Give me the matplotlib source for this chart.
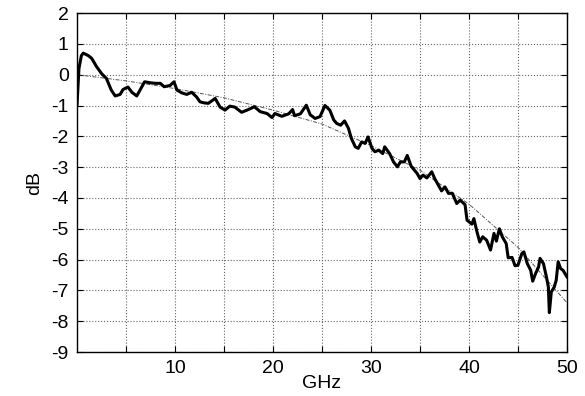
import matplotlib
matplotlib.use("Agg")
import matplotlib.pyplot as plt

plt.rcParams['font.family'] = ['Liberation Sans', 'DejaVu Sans']

# measured response (GHz, dB)
freq_ghz = [0.0, 0.2, 0.45, 0.64, 1.15, 1.5, 2.0, 2.5, 3.0, 3.5, 3.9, 4.4, 4.7, 5.2, 5.6,
            6.1, 6.4, 6.9, 7.45, 7.96, 8.5, 8.9, 9.5, 9.9, 10.2, 10.7, 11.2, 11.7, 12.2,
            12.55, 12.9, 13.4, 14.1, 14.6, 15.1, 15.6, 16.1, 16.8, 17.5, 18.1, 18.7, 19.4,
            19.9, 20.2, 20.9, 21.6, 22.0, 22.2, 22.8, 23.4, 23.8, 24.3, 24.8, 25.3, 25.8,
            26.2, 26.5, 26.9, 27.3, 27.7, 28.0, 28.4, 28.7, 29.05, 29.4, 29.7, 30.1, 30.4,
            30.8, 31.2, 31.4, 31.9, 32.3, 32.7, 33.0, 33.4, 33.7, 34.1, 34.7, 35.0, 35.3,
            35.7, 36.2, 36.5, 36.9, 37.2, 37.55, 37.9, 38.3, 38.75, 39.1, 39.6, 39.8, 40.3,
            40.5, 40.8, 41.1, 41.4, 41.8, 42.2, 42.55, 42.8, 43.1, 43.4, 43.8, 44.0, 44.4,
            44.7, 45.0, 45.4, 45.6, 45.95, 46.3, 46.5, 46.8, 47.1, 47.25, 47.6, 47.9, 48.1,
            48.2, 48.4, 48.7, 48.9, 49.1, 49.35, 49.6, 49.9, 50.0]
response_db = [-1.0, 0.2, 0.62, 0.70, 0.62, 0.53, 0.26, 0.04, -0.12, -0.5, -0.69, -0.64, -0.48,
               -0.40, -0.57, -0.69, -0.52, -0.23, -0.26, -0.28, -0.28, -0.39, -0.35, -0.23,
               -0.5, -0.59, -0.64, -0.57, -0.72, -0.88, -0.91, -0.93, -0.77, -1.05, -1.15,
               -1.02, -1.05, -1.22, -1.13, -1.04, -1.2, -1.26, -1.39, -1.26, -1.35, -1.27,
               -1.13, -1.33, -1.27, -0.99, -1.3, -1.42, -1.36, -1.0, -1.15, -1.47, -1.58,
               -1.64, -1.5, -1.74, -2.07, -2.34, -2.39, -2.18, -2.23, -2.02, -2.39, -2.5,
               -2.45, -2.56, -2.34, -2.56, -2.83, -2.99, -2.83, -2.83, -2.62, -2.97, -3.2,
               -3.37, -3.26, -3.35, -3.15, -3.37, -3.6, -3.77, -3.64, -3.85, -3.85, -4.18,
               -4.07, -4.22, -4.72, -4.85, -4.67, -5.08, -5.43, -5.26, -5.37, -5.69, -5.15,
               -5.4, -5.0, -5.26, -5.48, -5.94, -5.93, -6.2, -6.18, -5.8, -5.75, -6.13,
               -6.35, -6.7, -6.45, -6.24, -5.96, -6.13, -6.56, -6.89, -7.72, -7.05, -6.89,
               -6.67, -6.07, -6.29, -6.35, -6.51, -6.56]

# fitted trend (GHz, dB)
trend_ghz = [0, 5, 10, 15, 20, 25, 30, 35, 40, 45, 50]
trend_db = [0.0, -0.2, -0.45, -0.75, -1.15, -1.6, -2.3, -3.1, -4.2, -5.6, -7.4]

x_ticks = [5, 10, 15, 20, 25, 30, 35, 40, 45, 50]
x_tick_labels = ['', '10', '', '20', '', '30', '', '40', '', '50']
y_ticks = [2, 1, 0, -1, -2, -3, -4, -5, -6, -7, -8, -9]

fig = plt.figure(figsize=(5.85, 3.96), dpi=100)
ax = fig.add_axes([0.1316, 0.111, 0.8376, 0.856])

ax.plot(trend_ghz, trend_db, color='#555555', lw=0.7, ls=(0, (4, 1.5, 1, 1.5)), zorder=2)
ax.plot(freq_ghz, response_db, color='black', lw=2.2, zorder=3)

ax.set_xlim(0, 50)
ax.set_ylim(-9, 2)
ax.set_xticks(x_ticks)
ax.set_xticklabels(x_tick_labels)
ax.set_yticks(y_ticks)
ax.set_yticklabels([str(v) for v in y_ticks])
ax.tick_params(direction='in', top=True, right=True, labelsize=14, length=4,
               width=0.8, pad=6)
ax.grid(True, color='#666666', ls=':', lw=0.8)
for s in ax.spines.values():
    s.set_linewidth(1.0)
ax.set_xlabel('GHz', fontsize=14, labelpad=-2)
ax.set_ylabel('dB', fontsize=14, labelpad=6)

fig.savefig('out.png', dpi=100)
